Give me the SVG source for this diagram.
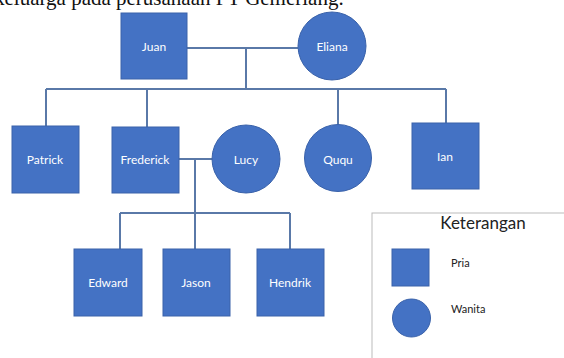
<svg xmlns="http://www.w3.org/2000/svg" width="564" height="358" viewBox="0 0 564 358">
<style>
.m{fill:#4472C4;stroke:#3A62AA;stroke-width:1}
.l{fill:#fff;font-family:Lato,"Open Sans",sans-serif;font-size:12px;text-anchor:middle;dominant-baseline:central}
.c{fill:none;stroke:#5A79A8;stroke-width:2}
.k{font-family:Lato,"Open Sans",sans-serif;fill:#222}
</style>
<rect width="564" height="358" fill="#fff"/>
<text x="-6" y="5" font-family="'Liberation Serif',serif" font-size="21" fill="#111">keluarga pada perusahaan PT Gemerlang.</text>
<g id="connectors">
<path class="c" d="M187 48H298M246 48V89M46 89H446M46 89V126M147 89V127M338 89V125M446 89V123"/>
<path class="c" d="M179 159H213M195 159V213M120 213H290M120 213V249M195 213V249M290 213V249"/>
</g>
<g id="juan"><rect class="m" x="121" y="13" width="66" height="66"/><text class="l" x="154" y="46">Juan</text></g>
<g id="eliana"><circle class="m" cx="332" cy="46" r="34"/><text class="l" x="332" y="46">Eliana</text></g>
<g id="patrick"><rect class="m" x="12" y="126" width="67" height="67"/><text class="l" x="45" y="159">Patrick</text></g>
<g id="frederick"><rect class="m" x="112" y="127" width="67" height="66"/><text class="l" x="145" y="159">Frederick</text></g>
<g id="lucy"><circle class="m" cx="246" cy="159" r="34"/><text class="l" x="246" y="159">Lucy</text></g>
<g id="ququ"><circle class="m" cx="338" cy="158" r="33.5"/><text class="l" x="338" y="159">Ququ</text></g>
<g id="ian"><rect class="m" x="412" y="123" width="67" height="66"/><text class="l" x="445" y="156">Ian</text></g>
<g id="edward"><rect class="m" x="74" y="249" width="68" height="67"/><text class="l" x="108" y="282">Edward</text></g>
<g id="jason"><rect class="m" x="163" y="249" width="67" height="67"/><text class="l" x="196" y="282">Jason</text></g>
<g id="hendrik"><rect class="m" x="257" y="249" width="67" height="67"/><text class="l" x="290" y="282">Hendrik</text></g>
<g id="legend">
<rect x="372" y="213" width="200" height="150" fill="#fff" stroke="#BBBBBB" stroke-width="1"/>
<text class="k" x="483" y="229" font-size="17" text-anchor="middle">Keterangan</text>
<rect class="m" x="392" y="249" width="37" height="37"/>
<text class="k" x="451" y="267" font-size="11">Pria</text>
<circle class="m" cx="411.5" cy="318" r="19"/>
<text class="k" x="451" y="313" font-size="11">Wanita</text>
</g>
</svg>
